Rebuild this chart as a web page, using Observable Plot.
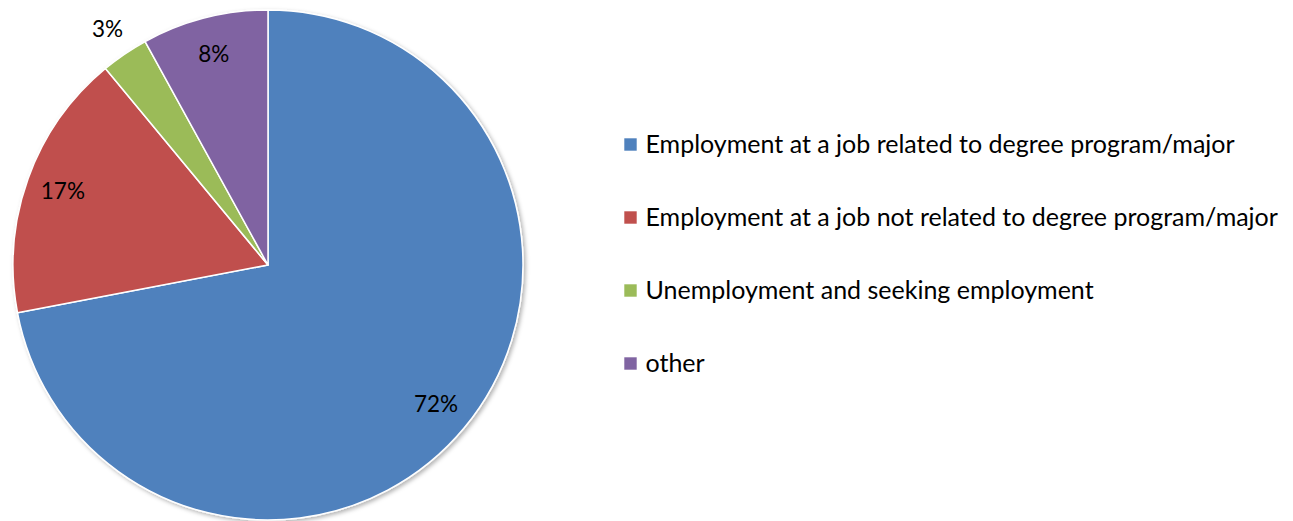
<!DOCTYPE html>
<html>
<head>
<meta charset="utf-8">
<script src="https://cdn.jsdelivr.net/npm/d3@7"></script>
<script src="https://cdn.jsdelivr.net/npm/@observablehq/plot@0.6"></script>
<style>
  html, body { margin: 0; padding: 0; background: #fff; }
  #chart { width: 1293px; height: 521px; }
</style>
</head>
<body>
<div id="chart"></div>
<script>
const categories = [
  "Employment at a job related to degree program/major",
  "Employment at a job not related to degree program/major",
  "Unemployment and seeking employment",
  "other"
];
const values = [72, 17, 3, 8];
const labels = ["72%", "17%", "3%", "8%"];
const colors = ["#4F81BD", "#C0504D", "#9BBB59", "#8064A2"];

const data = categories.map((c, i) => ({category: c, value: values[i], label: labels[i]}));

const cx = 268, cy = 265, R = 255;
const FONT = "Lato, 'Open Sans', sans-serif";

function pieMark(index, scales, vals, dimensions, context) {
  const pie = d3.pie().sort(null).value(d => d.value).startAngle(0).endAngle(2 * Math.PI);
  const arcs = pie(data);
  const arc = d3.arc().innerRadius(0).outerRadius(R);
  const g = d3.create("svg:g").attr("transform", `translate(${cx},${cy})`);
  const defs = g.append("defs");
  const f = defs.append("filter").attr("id", "pieShadow").attr("x", "-10%").attr("y", "-10%").attr("width", "130%").attr("height", "130%");
  f.append("feDropShadow").attr("dx", 2).attr("dy", 2).attr("stdDeviation", 2).attr("flood-color", "#000").attr("flood-opacity", 0.3);
  const slices = g.append("g").attr("filter", "url(#pieShadow)");
  slices.selectAll("path").data(arcs).join("path")
    .attr("d", arc)
    .attr("fill", d => scales.color(d.data.category))
    .attr("stroke", "#fff")
    .attr("stroke-width", 1.5)
    .attr("stroke-linejoin", "round");
  g.append("g").selectAll("text").data(arcs).join("text")
    .attr("transform", d => {
      const a = (d.startAngle + d.endAngle) / 2;
      const r = d.data.value < 5 ? R * 1.12 : R * 0.855;
      return `translate(${r * Math.sin(a)},${-r * Math.cos(a)})`;
    })
    .attr("text-anchor", "middle")
    .attr("dy", "0.35em")
    .style("font-family", FONT)
    .style("font-size", "22.5px")
    .attr("fill", "#000")
    .text(d => d.data.label);
  return g.node();
}

const chart = Plot.plot({
  width: 1293,
  height: 521,
  margin: 0,
  style: {fontFamily: FONT, fontSize: "22px", background: "#fff"},
  color: {domain: categories, range: colors},
  y: {type: "point", domain: categories, range: [143, 364], padding: 0, axis: null},
  marks: [
    pieMark,
    Plot.dot(data, {y: "category", fill: "category", symbol: "square", r: 7, frameAnchor: "left", dx: 630, stroke: null}),
    Plot.text(data, {y: "category", text: "category", frameAnchor: "left", dx: 645, textAnchor: "start", lineAnchor: "middle", fontSize: 25, fill: "#000"})
  ]
});
document.getElementById("chart").appendChild(chart);
</script>
</body>
</html>
